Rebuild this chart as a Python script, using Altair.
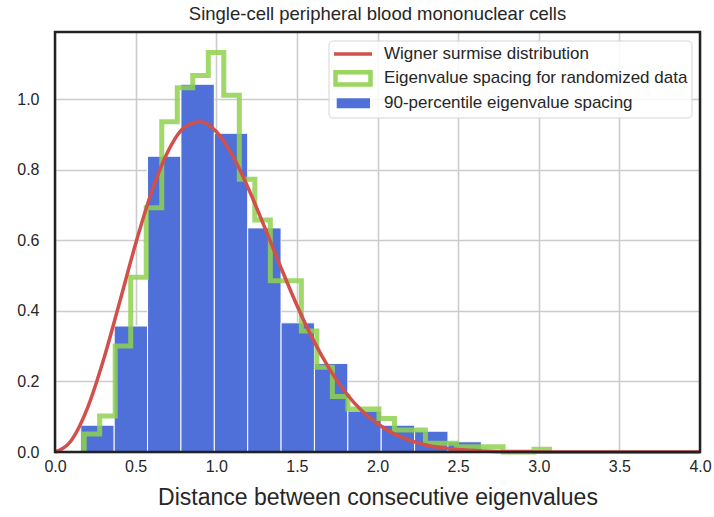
import altair as alt
import pandas as pd

# ---------------- data ----------------
chart_title = "Single-cell peripheral blood mononuclear cells"
x_title = "Distance between consecutive eigenvalues"
series_names = [
    "Wigner surmise distribution",
    "Eigenvalue spacing for randomized data",
    "90-percentile eigenvalue spacing",
]

# 90-percentile eigenvalue spacing (filled histogram)
bar_starts = [0.160, 0.367, 0.574, 0.781, 0.988, 1.195, 1.402, 1.609, 1.816, 2.023, 2.230, 2.437]
bar_width = 0.207
bar_heights = [0.076, 0.357, 0.838, 1.042, 0.903, 0.635, 0.366, 0.251, 0.116, 0.076, 0.059, 0.029]

# randomized data (step histogram)
step_start = 0.181
step_width = 0.0962
step_heights = [0.051, 0.102, 0.300, 0.495, 0.692, 0.936, 1.032, 1.067, 1.132, 1.011,
                0.773, 0.657, 0.485, 0.485, 0.343, 0.240, 0.157, 0.122, 0.122, 0.095,
                0.062, 0.062, 0.025, 0.025, 0.015, 0.015, 0.015, 0.000, 0.000, 0.008]

# Wigner surmise curve
curve_x = [0.0, 0.1, 0.2, 0.3, 0.4, 0.5, 0.6, 0.7, 0.8, 0.9, 1.0, 1.1, 1.2, 1.3, 1.4,
           1.5, 1.6, 1.7, 1.8, 1.9, 2.0, 2.1, 2.2, 2.3, 2.4, 2.5, 2.6, 2.7, 2.8, 2.9,
           3.0, 3.2, 3.4, 3.6, 3.8, 4.0]
curve_y = [0.000, 0.032, 0.123, 0.260, 0.423, 0.590, 0.738, 0.851, 0.919, 0.936,
           0.908, 0.841, 0.746, 0.637, 0.524, 0.416, 0.319, 0.237, 0.170, 0.118,
           0.080, 0.052, 0.033, 0.020, 0.012, 0.007, 0.004, 0.002, 0.001, 0.001,
           0.000, 0.000, 0.000, 0.000, 0.000, 0.000]

x_ticks = [0.0, 0.5, 1.0, 1.5, 2.0, 2.5, 3.0, 3.5, 4.0]
y_ticks = [0.0, 0.2, 0.4, 0.6, 0.8, 1.0]

# ---------------- styling ----------------
FONT = "Liberation Sans"
TXT = "#262626"
RED = "#d1504b"
GREEN = "#8fd14f"
BLUE = "#4f70d8"

W, H = 645, 420

bars_df = pd.DataFrame({
    "x": bar_starts,
    "x2": [s + bar_width for s in bar_starts],
    "y": bar_heights,
    "y0": [0.0] * len(bar_starts),
})

n = len(step_heights)
sx = [step_start] + [step_start + i * step_width for i in range(n)] + [step_start + n * step_width]
sy = [0.0] + step_heights + [0.0]
step_df = pd.DataFrame({"x": sx, "y": sy, "i": list(range(len(sx)))})

curve_df = pd.DataFrame({"x": curve_x, "y": curve_y})

x_axis = alt.Axis(values=x_ticks, format=".1f", title=x_title, tickSize=0,
                  labelPadding=6, labelFlush=False, titleY=52,
                  titleBaseline="alphabetic", grid=True)
y_axis = alt.Axis(values=y_ticks, format=".1f", title=None, tickSize=0,
                  labelPadding=16, labelFlush=False, grid=True)
xs = alt.Scale(domain=[0, 4], nice=False, zero=False)
ys = alt.Scale(domain=[0, 1.19], nice=False, zero=False)

bars = alt.Chart(bars_df).mark_rect(color=BLUE, stroke="white", strokeWidth=1).encode(
    x=alt.X("x:Q", scale=xs, axis=x_axis),
    x2="x2:Q",
    y=alt.Y("y:Q", scale=ys, axis=y_axis),
    y2="y0:Q",
)

step = alt.Chart(step_df).mark_line(
    color=GREEN, strokeWidth=5, opacity=0.85, interpolate="step-after",
    strokeJoin="miter", strokeCap="butt"
).encode(
    x=alt.X("x:Q", scale=xs, axis=x_axis),
    y=alt.Y("y:Q", scale=ys, axis=y_axis),
    order="i:Q",
)

curve = alt.Chart(curve_df).mark_line(
    color=RED, strokeWidth=3.5, interpolate="monotone"
).encode(
    x=alt.X("x:Q", scale=xs, axis=x_axis),
    y=alt.Y("y:Q", scale=ys, axis=y_axis),
)

one = alt.Data(values=[{"k": 1}])

frame = alt.Chart(one).mark_rect(fill=None, stroke="#222222", strokeWidth=2.5).encode(
    x=alt.value(0), x2=alt.value(W), y=alt.value(0), y2=alt.value(H)
)

legend_box = alt.Chart(one).mark_rect(
    fill="white", fillOpacity=0.85, stroke="#d5d5d5", strokeWidth=1, cornerRadius=4
).encode(x=alt.value(274), x2=alt.value(637), y=alt.value(9), y2=alt.value(86))

leg_red = alt.Chart(one).mark_rule(color=RED, strokeWidth=3.5).encode(
    x=alt.value(279), x2=alt.value(317), y=alt.value(22)
)
leg_green = alt.Chart(one).mark_rect(fill="white", stroke=GREEN, strokeWidth=4.5, strokeOpacity=0.9).encode(
    x=alt.value(280.5), x2=alt.value(315.5), y=alt.value(40.3), y2=alt.value(52.5)
)
leg_blue = alt.Chart(one).mark_rect(color=BLUE).encode(
    x=alt.value(281.7), x2=alt.value(315), y=alt.value(66.3), y2=alt.value(76.3)
)

def leg_text(label, ypix):
    return alt.Chart(one).mark_text(
        align="left", baseline="middle", font=FONT, fontSize=17, color=TXT
    ).encode(x=alt.value(329), y=alt.value(ypix), text=alt.value(label))

chart = alt.layer(
    bars, step, curve, frame, legend_box, leg_red, leg_green, leg_blue,
    leg_text(series_names[0], 22),
    leg_text(series_names[1], 46.3),
    leg_text(series_names[2], 70.7),
).properties(
    width=W,
    height=H,
    title=alt.TitleParams(text=chart_title, font=FONT, fontSize=18.5, fontWeight="normal",
                          color=TXT, anchor="middle", offset=7),
    padding={"left": 55, "top": 32, "right": 14, "bottom": 65},
    autosize=alt.AutoSizeParams(type="none"),
).configure_view(
    stroke=None
).configure_axis(
    domain=False,
    gridColor="#cccccc",
    gridWidth=1.6,
    labelFont=FONT,
    labelFontSize=16,
    labelColor=TXT,
    titleFont=FONT,
    titleFontSize=23,
    titleColor=TXT,
    titleFontWeight="normal",
)

chart.save("out.html", embed_options={"renderer": "svg", "actions": False})
